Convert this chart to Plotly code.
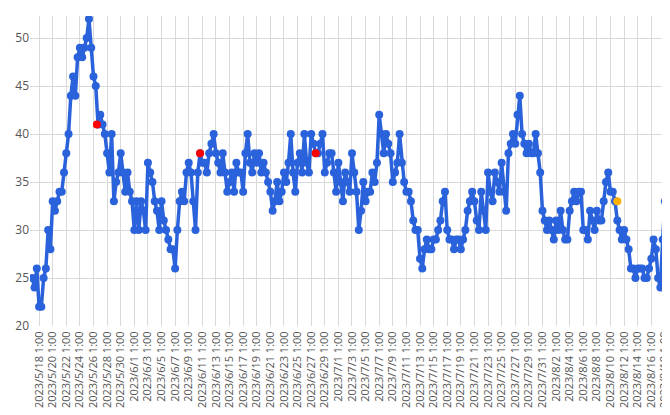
import plotly.graph_objects as go
import pandas as pd

start = "2023-05-17 01:00"
values = [
    25,24,26, 22,22,25, 26,30,28, 33,32,33, 34,34,36, 38,40,44, 46,44,48, 49,48,49,
    50,52,49, 46,45,41, 42,41,40, 38,36,40, 33,35,36, 38,36,34, 36,34,33, 30,33,30,
    33,32,30, 37,36,35, 33,32,30, 33,31,30, 29,28,28, 26,30,33, 34,33,36, 37,36,33,
    30,36,38, 37,37,36, 38,39,40, 38,37,36, 38,36,34, 35,36,34, 37,36,36, 34,38,40,
    37,36,38, 37,38,36, 37,36,35, 34,32,33, 35,33,34, 36,35,37, 40,36,34, 37,38,36,
    40,37,36, 40,39,38, 38,39,40, 36,37,38, 38,36,34, 37,35,33, 36,35,34, 38,36,34,
    30,32,35, 33,34,34, 36,35,37, 42,40,38, 40,39,38, 35,36,37, 40,37,35, 34,34,33,
    31,30,30, 27,26,28, 29,28,28, 29,29,30, 31,33,34, 30,29,29, 28,29,29, 28,29,30,
    32,33,34, 33,31,30, 34,32,30, 36,34,33, 36,35,34, 37,34,32, 38,39,40, 39,42,44,
    40,39,38, 39,38,38, 40,38,36, 32,31,30, 31,30,29, 31,30,32, 30,29,29, 32,33,34,
    33,34,34, 30,30,29, 32,31,30, 32,31,31, 33,35,36, 34,34,33, 31,30,29, 30,29,28,
    26,26,25, 26,26,26, 25,25,26, 27,29,28, 25,24,29, 33,31,30, 28,26,
]
red_times = ["2023-05-26 13:00", "2023-06-10 17:00", "2023-06-27 17:00"]
red_values = [41, 38, 38]
orange_times = ["2023-08-11 01:00"]
orange_values = [33]

times = pd.date_range(start, periods=len(values), freq="8h")

fig = go.Figure()
fig.add_trace(go.Scatter(x=times, y=values, mode="lines+markers",
    line=dict(color="#2a62dc", width=3.5), marker=dict(color="#2a62dc", size=8)))
fig.add_trace(go.Scatter(x=pd.to_datetime(red_times), y=red_values, mode="markers",
    marker=dict(color="#ff0000", size=8)))
fig.add_trace(go.Scatter(x=pd.to_datetime(orange_times), y=orange_values, mode="markers",
    marker=dict(color="#ffb000", size=8)))

fig.update_layout(
    width=670, height=415, showlegend=False,
    margin=dict(l=22, r=6, t=8, b=97),
    plot_bgcolor="white", paper_bgcolor="white",
    font=dict(family="Open Sans", size=11, color="#555"),
)
fig.update_xaxes(type="date", tick0="2023-05-18 01:00", dtick=2*86400000,
    tickformat="%Y/%-m/%-d %-H:%M", tickangle=-90, showgrid=True, gridcolor="#d9d9d9",
    range=["2023-05-16 17:00", "2023-08-19 02:00"], zeroline=False, showline=False,
    ticks="outside", ticklen=0)
fig.update_yaxes(range=[20, 52.3], dtick=5, showgrid=True, gridcolor="#d9d9d9",
    zeroline=False, showline=False, tickfont=dict(size=12))
fig.write_html("out.html")
